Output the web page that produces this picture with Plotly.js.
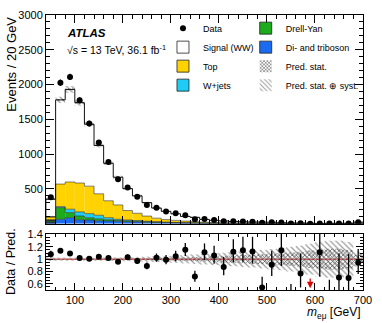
<!DOCTYPE html>
<html>
<head>
<meta charset="utf-8">
<script src="https://cdn.plot.ly/plotly-3.0.1.min.js"></script>
<style>
  html, body { margin: 0; padding: 0; background: #fff; }
  #chart { width: 382px; height: 323px; }
</style>
</head>
<body>
<div id="chart"></div>
<script>
// m_emu distribution, 20 GeV bins from 40 to 700 GeV (last bin incl. overflow)
const binCenters = [50, 70, 90, 110, 130, 150, 170, 190, 210, 230, 250, 270, 290, 310, 330, 350, 370,
    390, 410, 430, 450, 470, 490, 510, 530, 550, 570, 590, 610, 630, 650, 670, 690];

const dataCounts = [381, 2026, 2110, 1775, 1440, 1169, 886, 641, 520, 388, 270, 230, 176, 150, 121, 66, 69,
    53, 35, 37, 32, 27, 13, 20, 16, 4, 8, 1, 5, 2, 5, 5, 22];

// stacked predictions, bottom to top
const diboson = [25, 64, 87, 58, 54, 43, 39, 35, 29, 24, 20, 16, 13, 11, 9, 8, 6,
    5, 4, 4, 3, 3, 2, 2, 2, 1, 1, 1, 1, 1, 1, 1, 3];
const drellYan = [21, 168, 73, 54, 33, 29, 19, 14, 14, 12, 10, 8, 6, 5, 4, 3, 2,
    2, 2, 1, 1, 1, 1, 1, 0, 0, 0, 0, 0, 0, 0, 0, 1];
const wJets = [8, 14, 49, 58, 58, 50, 29, 15, 11, 9, 6, 5, 4, 3, 3, 2, 2,
    1, 1, 1, 1, 1, 0, 0, 0, 0, 0, 0, 0, 0, 0, 0, 1];
const topBkg = [46, 324, 391, 415, 395, 308, 243, 206, 136, 105, 74, 51, 37, 29, 22, 17, 12,
    10, 8, 6, 5, 4, 4, 3, 3, 3, 2, 2, 1, 1, 1, 1, 7];
const signalWW = [253, 1210, 1330, 1155, 890, 694, 539, 398, 315, 250, 193, 145, 118, 95, 67, 62, 40,
    32, 25, 21, 18, 15, 17, 16, 9, 7, 7.4, 5, 2.5, 4, 5.1, 5.2, 11.4];

// relative uncertainty of the prediction
const predStatRel = [0.012, 0.008, 0.008, 0.008, 0.009, 0.01, 0.011, 0.012, 0.013, 0.015, 0.017, 0.019, 0.022, 0.025, 0.03, 0.035, 0.04,
    0.047, 0.053, 0.06, 0.066, 0.072, 0.08, 0.09, 0.1, 0.11, 0.12, 0.14, 0.15, 0.17, 0.17, 0.15, 0.07];
const predTotRel = [0.03, 0.025, 0.025, 0.025, 0.025, 0.026, 0.028, 0.03, 0.033, 0.037, 0.042, 0.047, 0.053, 0.06, 0.068, 0.077, 0.086,
    0.096, 0.105, 0.115, 0.125, 0.135, 0.15, 0.165, 0.18, 0.2, 0.22, 0.25, 0.28, 0.3, 0.3, 0.28, 0.12];

const yTickVals = [500, 1000, 1500, 2000, 2500, 3000];
const ratioTickVals = [0.6, 0.8, 1, 1.2, 1.4];
const ratioTickText = ['0.6', '0.8', '1', '1.2', '1.4'];

const sans = "'Liberation Sans', Arial, sans-serif";

const binWidth = 20;
const edges = binCenters.map(c => c - binWidth / 2).concat([binCenters[binCenters.length - 1] + binWidth / 2]);

function cumulate(list) {
    const out = [];
    let run = binCenters.map(() => 0);
    list.forEach(arr => {
        run = run.map((v, i) => v + arr[i]);
        out.push(run);
    });
    return out;
}

const comps = [
    { name: 'Di- and triboson', vals: diboson, color: '#1A6BF0', legend: 'legend2', rank: 6 },
    { name: 'Drell-Yan', vals: drellYan, color: '#1DAA1D', legend: 'legend2', rank: 5 },
    { name: 'W+jets', vals: wJets, color: '#1ECDF5', legend: 'legend', rank: 4 },
    { name: 'Top', vals: topBkg, color: '#FFD200', legend: 'legend', rank: 3 },
    { name: 'Signal (WW)', vals: signalWW, color: '#FFFFFF', legend: 'legend', rank: 2 }
];
const cum = cumulate(comps.map(c => c.vals));
const total = cum[cum.length - 1];

// outline only the first bin so legend boxes get a border; steps are drawn as lines below
const firstBinOnly = binCenters.map((_, i) => i === 0 ? 0.8 : 0);

const traces = [];

comps.forEach((c, k) => {
    const base = k === 0 ? binCenters.map(() => 0) : cum[k - 1];
    traces.push({
        type: 'bar', x: binCenters, y: c.vals, base: base, width: binWidth,
        name: c.name, legend: c.legend, legendrank: c.rank,
        marker: { color: c.color, line: { color: '#222', width: firstBinOnly } },
        xaxis: 'x', yaxis: 'y', hoverinfo: 'skip'
    });
});

function band(rel, xa, ya, scale, pattern, name, rank, show) {
    return {
        type: 'bar', x: binCenters, width: binWidth,
        y: rel.map((r, i) => 2 * r * scale[i]),
        base: rel.map((r, i) => scale[i] * (1 - r)),
        marker: { color: 'rgba(0,0,0,0)', line: { width: 0 }, pattern: pattern },
        name: name, legend: 'legend2', legendrank: rank, showlegend: show,
        xaxis: xa, yaxis: ya, hoverinfo: 'skip'
    };
}
const systPattern = { shape: '\\', fgcolor: '#9a9a9a', bgcolor: 'rgba(255,255,255,0)', size: 4, solidity: 0.3 };
const statPattern = { shape: 'x', fgcolor: '#3a3a3a', bgcolor: 'rgba(255,255,255,0)', size: 3, solidity: 0.35 };
const ones = binCenters.map(() => 1);

traces.push(band(predTotRel, 'x', 'y', total, systPattern, 'Pred. stat. \u2295 syst.', 8, true));
traces.push(band(predStatRel, 'x', 'y', total, statPattern, 'Pred. stat.', 7, true));
traces.push(band(predTotRel, 'x2', 'y2', ones, systPattern, 'syst ratio', 9, false));
traces.push(band(predStatRel, 'x2', 'y2', ones, statPattern, 'stat ratio', 9, false));

// step outlines of the stack
cum.forEach((level, k) => {
    const last = k === cum.length - 1;
    traces.push({
        type: 'scatter', mode: 'lines', x: edges, y: level.concat([level[level.length - 1]]),
        line: { shape: 'hv', color: last ? '#111' : '#333', width: last ? 1 : 0.6 },
        showlegend: false, xaxis: 'x', yaxis: 'y', hoverinfo: 'skip'
    });
});

// Poisson-like asymmetric errors on data
const errUp = dataCounts.map(n => 0.5 + Math.sqrt(n + 0.25));
const errDown = dataCounts.map(n => Math.sqrt(n + 0.25) - 0.5);

traces.push({
    type: 'scatter', mode: 'markers', x: binCenters, y: dataCounts, name: 'Data',
    legend: 'legend', legendrank: 1,
    marker: { color: 'black', size: 6 },
    error_y: { type: 'data', symmetric: false, array: errUp, arrayminus: errDown, color: 'black', thickness: 1.3, width: 0 },
    xaxis: 'x', yaxis: 'y', hoverinfo: 'skip'
});

const ratio = dataCounts.map((n, i) => n / total[i]);
traces.push({
    type: 'scatter', mode: 'markers', x: binCenters, y: ratio, showlegend: false,
    marker: { color: 'black', size: 6 },
    error_y: {
        type: 'data', symmetric: false,
        array: errUp.map((e, i) => e / total[i]),
        arrayminus: errDown.map((e, i) => e / total[i]),
        color: 'black', thickness: 1.3, width: 0
    },
    xaxis: 'x2', yaxis: 'y2', hoverinfo: 'skip'
});

const ratioRange = [0.5, 1.41];

// red arrows for points below the ratio range
const arrows = [];
binCenters.forEach((c, i) => {
    if (ratio[i] + errUp[i] / total[i] < ratioRange[0]) {
        arrows.push({
            x: c, y: ratioRange[0] + 0.03, ax: c, ay: ratioRange[0] + 0.21,
            xref: 'x2', yref: 'y2', axref: 'x2', ayref: 'y2',
            showarrow: true, arrowhead: 2, arrowsize: 1, arrowwidth: 1.3, arrowcolor: '#e00000', text: ''
        });
    }
});

const axisCommon = {
    showline: true, linecolor: 'black', linewidth: 1, mirror: 'allticks',
    ticks: 'inside', tickcolor: 'black', showgrid: false, zeroline: false,
    tickfont: { family: sans, size: 11, color: 'black' }
};

const legendCommon = {
    xanchor: 'left', yanchor: 'top', bgcolor: 'rgba(0,0,0,0)', borderwidth: 0,
    itemwidth: 30, tracegroupgap: 0,
    font: { family: sans, size: 9, color: 'black' }
};

const layout = {
    width: 382, height: 323,
    margin: { l: 46, r: 19, t: 15, b: 33 },
    paper_bgcolor: 'white', plot_bgcolor: 'white',
    barmode: 'overlay',
    showlegend: true,
    font: { family: sans, size: 11, color: 'black' },
    xaxis: Object.assign({}, axisCommon, {
        domain: [0, 1], range: [40, 700], anchor: 'y', showticklabels: false,
        tick0: 0, dtick: 100, ticklen: 8,
        minor: { dtick: 20, tick0: 0, ticklen: 4, ticks: 'inside', tickcolor: 'black' }
    }),
    yaxis: Object.assign({}, axisCommon, {
        domain: [0.241, 1], range: [0, 3000], anchor: 'x',
        tickmode: 'array', tickvals: yTickVals, ticklen: 8,
        minor: { dtick: 100, tick0: 0, ticklen: 4, ticks: 'inside', tickcolor: 'black' }
    }),
    xaxis2: Object.assign({}, axisCommon, {
        domain: [0, 1], range: [40, 700], anchor: 'y2', matches: 'x',
        tick0: 0, dtick: 100, ticklen: 7,
        minor: { dtick: 20, tick0: 0, ticklen: 3.5, ticks: 'inside', tickcolor: 'black' }
    }),
    yaxis2: Object.assign({}, axisCommon, {
        domain: [0, 0.204], range: ratioRange, anchor: 'x2',
        tickmode: 'array', tickvals: ratioTickVals, ticktext: ratioTickText, ticklen: 7,
        minor: { dtick: 0.05, tick0: 0, ticklen: 3.5, ticks: 'inside', tickcolor: 'black' }
    }),
    legend: Object.assign({}, legendCommon, { x: 0.369, y: 1.005 }),
    legend2: Object.assign({}, legendCommon, { x: 0.630, y: 1.005 }),
    shapes: [{
        type: 'line', xref: 'x2 domain', yref: 'y2', x0: 0, x1: 1, y0: 1, y1: 1,
        line: { color: '#e00000', width: 1 }, layer: 'below'
    }],
    annotations: [
        {
            text: '<b><i>ATLAS</i></b>', xref: 'paper', yref: 'paper', x: 0.06, y: 0.936,
            xanchor: 'left', yanchor: 'middle', showarrow: false,
            font: { family: sans, size: 11.5, color: 'black' }
        },
        {
            text: '\u221As = 13 TeV, 36.1 fb<sup>-1</sup>', xref: 'paper', yref: 'paper', x: 0.06, y: 0.873,
            xanchor: 'left', yanchor: 'middle', showarrow: false,
            font: { family: sans, size: 10.5, color: 'black' }
        },
        {
            text: 'Events / 20 GeV', xref: 'paper', yref: 'paper', x: -0.11, y: 1,
            xanchor: 'center', yanchor: 'top', textangle: -90, showarrow: false,
            font: { family: sans, size: 13, color: 'black' }
        },
        {
            text: 'Data / Pred.', xref: 'paper', yref: 'paper', x: -0.11, y: 0.102,
            xanchor: 'center', yanchor: 'middle', textangle: -90, showarrow: false,
            font: { family: sans, size: 12.5, color: 'black' }
        },
        {
            text: '<i>m</i><sub>e\u03bc</sub> [GeV]', xref: 'paper', yref: 'paper', x: 1, y: -0.084,
            xanchor: 'right', yanchor: 'middle', showarrow: false,
            font: { family: sans, size: 12, color: 'black' }
        }
    ].concat(arrows)
};

Plotly.newPlot('chart', traces, layout, { displayModeBar: false, staticPlot: true });
</script>
</body>
</html>
